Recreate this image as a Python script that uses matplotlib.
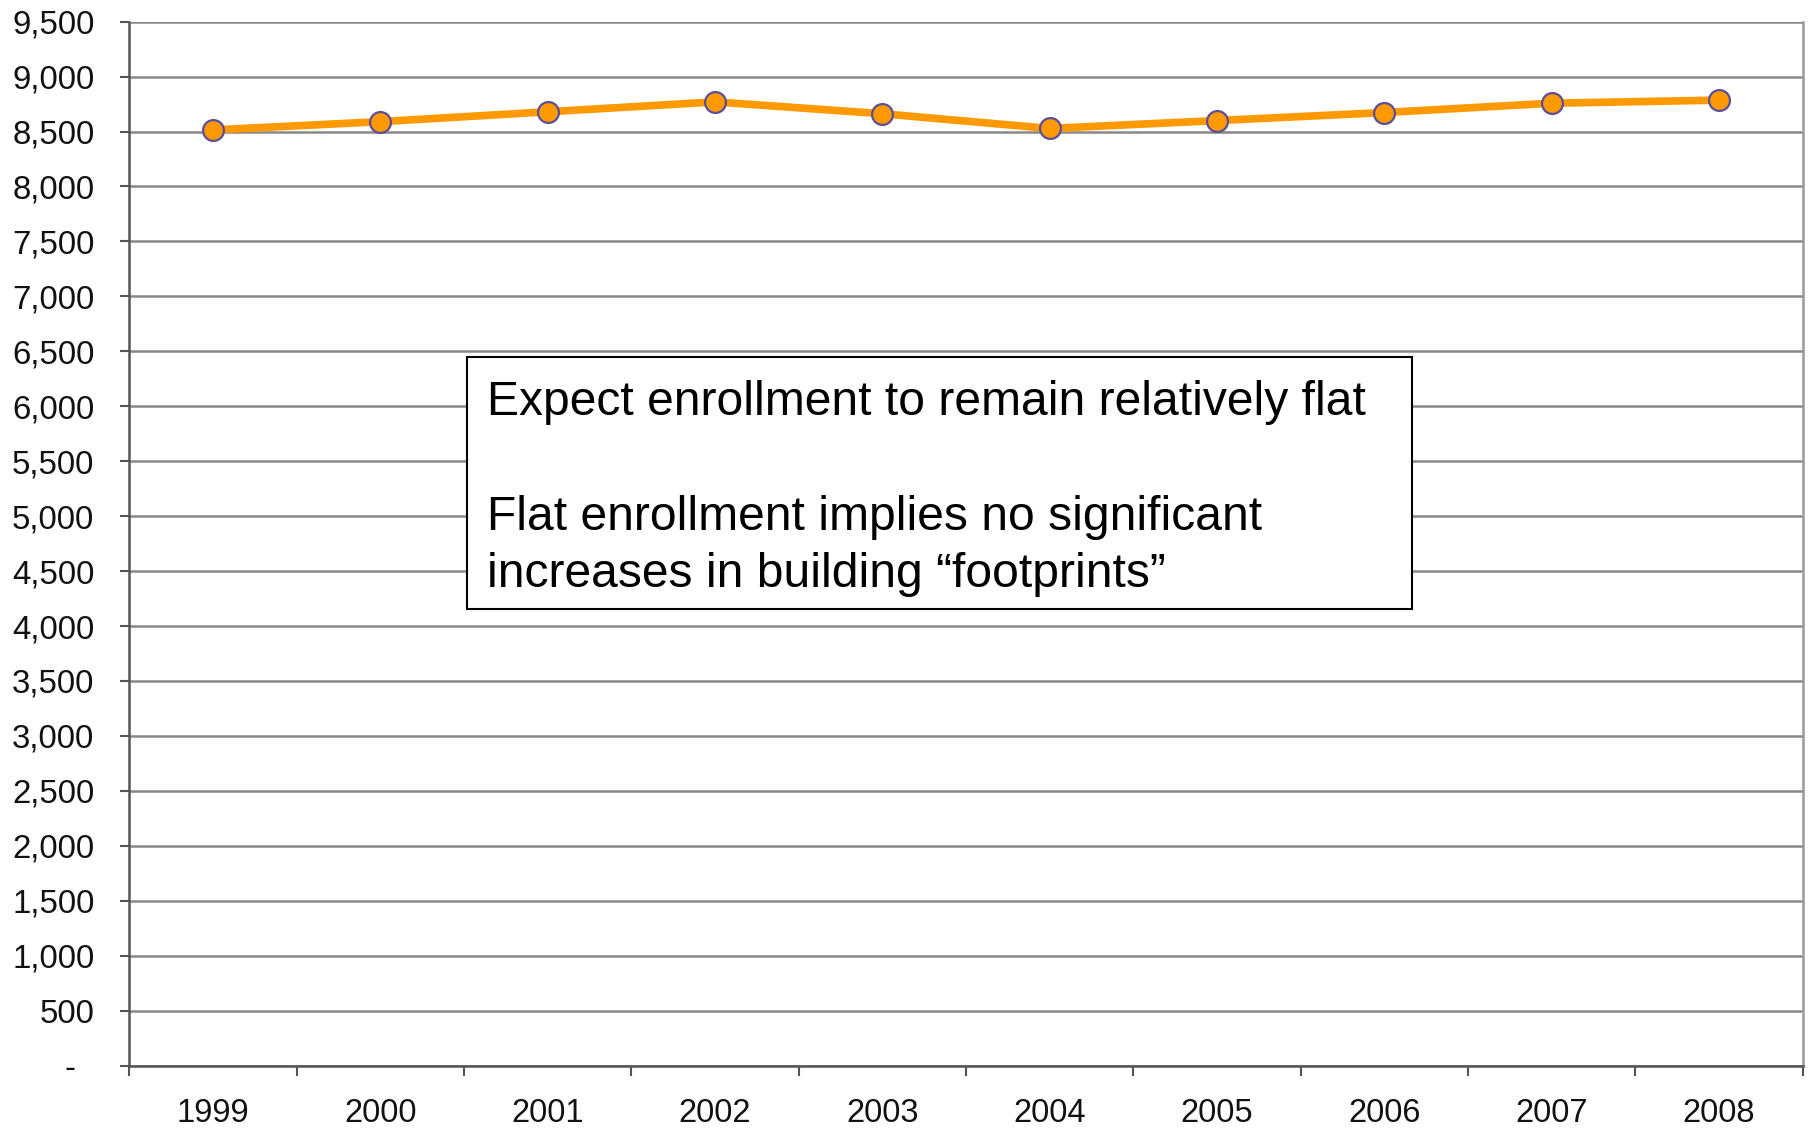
import numpy as np
import matplotlib.pyplot as plt
from matplotlib.patches import Rectangle
from matplotlib.ticker import FixedLocator, FuncFormatter

years = ['1999', '2000', '2001', '2002', '2003', '2004', '2005', '2006', '2007', '2008']
enrollment = [8515, 8590, 8680, 8770, 8662, 8528, 8600, 8673, 8758, 8786]
y_ticks = list(range(0, 10000, 500))
note_lines = ['Expect enrollment to remain relatively flat',
              'Flat enrollment implies no significant',
              'increases in building \u201cfootprints\u201d']

plt.rcParams['font.family'] = ['Liberation Sans', 'DejaVu Sans']

fig = plt.figure(figsize=(18.12, 11.29), dpi=100)
ax = fig.add_axes([0.0714, 0.0562, 0.9235, 0.9246])

x = np.arange(len(years))
ax.plot(x, enrollment, color='#FF9900', lw=5.5, marker='o', ms=15,
        mfc='#FF9900', mec='#5B4E9A', mew=1.6, zorder=5, solid_capstyle='round')

ax.set_xlim(-0.5, len(years) - 0.5)
ax.set_ylim(0, 9500)

# gridlines
ax.set_yticks(y_ticks)
ax.yaxis.grid(True, color='#888888', lw=1.8)
ax.set_axisbelow(True)

def yfmt(v, pos):
    if v == 0:
        return '-  '
    return f'{int(v):,}'
ax.yaxis.set_major_formatter(FuncFormatter(yfmt))
ax.tick_params(axis='y', which='major', length=6.7, width=1.5, color='#555555',
               pad=18.5, labelsize=23.8, labelcolor='#111111')

# x: labels at centres, tick marks at category boundaries
ax.set_xticks(x)
ax.set_xticklabels(years)
ax.xaxis.set_minor_locator(FixedLocator(np.arange(-0.5, len(years), 1.0)))
ax.tick_params(axis='x', which='major', length=0, pad=23.5, labelsize=23.5,
               labelcolor='#111111')
ax.tick_params(axis='x', which='minor', length=7.5, width=1.5, color='#555555')

for s in ['left', 'bottom']:
    ax.spines[s].set_color('#555555')
    ax.spines[s].set_linewidth(1.8)
ax.spines['right'].set_color('#9a9a9a')
ax.spines['right'].set_linewidth(1.8)
ax.spines['top'].set_visible(False)

# note box
box = Rectangle((0.2018, 0.4373), 0.7665 - 0.2018, 0.6788 - 0.4373,
                transform=ax.transAxes, facecolor='white', edgecolor='black',
                lw=1.5, zorder=6)
ax.add_patch(box)
for txt, yy in zip(note_lines, [0.6235, 0.5130, 0.4585]):
    ax.text(0.2135, yy, txt, transform=ax.transAxes, fontsize=34.6,
            va='baseline', ha='left', color='black', zorder=7)

fig.savefig('out.png', dpi=100)
